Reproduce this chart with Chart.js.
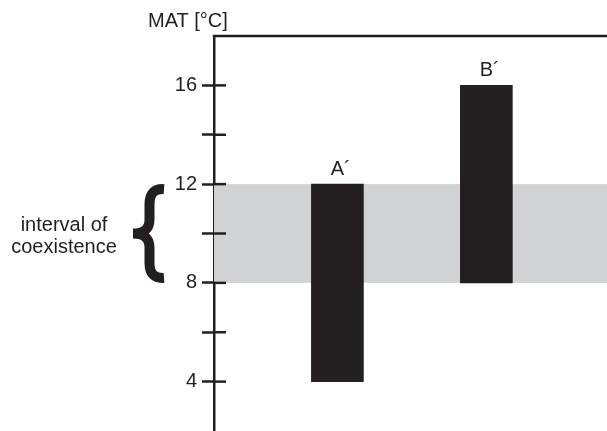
<!DOCTYPE html>
<html>
<head>
<meta charset="utf-8">
<script src="https://cdn.jsdelivr.net/npm/chart.js@4/dist/chart.umd.min.js"></script>
<style>
  html, body { margin: 0; padding: 0; background: #fff; }
  #wrap { width: 607px; height: 431px; position: relative; }
</style>
</head>
<body>
<div id="wrap"><canvas id="c" width="607" height="431"></canvas></div>
<script>
// ---- data ----
const categories = ['A\u00B4', 'B\u00B4'];
const barPositions = [31.4, 69.3];          // position along the (hidden) x axis, 0-100
const lowValues = [4, 8];                   // MAT lower bound [°C]
const highValues = [12, 16];                // MAT upper bound [°C]
const coexistence = [8, 12];                // interval of coexistence [°C]
const yTickValues = [4, 6, 8, 10, 12, 14, 16];
const yTickLabels = ['4', '', '8', '', '12', '', '16'];
const yMin = 2, yMax = 18;
const yTitle = 'MAT [°C]';
const bandLabel = ['interval of', 'coexistence'];

const INK = '#231f20';
const FONT = '"Liberation Sans", Arial, sans-serif';

const barData = categories.map((c, i) => ({ x: barPositions[i], y: [lowValues[i], highValues[i]] }));

const decorPlugin = {
  id: 'decor',
  beforeDatasetsDraw(chart) {
    const { ctx, chartArea } = chart;
    const y = chart.scales.y;
    const yTop = y.getPixelForValue(coexistence[1]);
    const yBot = y.getPixelForValue(coexistence[0]);
    ctx.save();
    ctx.fillStyle = '#d1d2d4';
    ctx.fillRect(chartArea.left, yTop, chartArea.right - chartArea.left, yBot - yTop);
    ctx.restore();
  },
  afterDatasetsDraw(chart) {
    const { ctx, chartArea } = chart;
    const y = chart.scales.y;
    ctx.save();
    // top frame line
    ctx.strokeStyle = INK;
    ctx.lineWidth = 2.5;
    ctx.beginPath();
    ctx.moveTo(chartArea.left - 1.25, chartArea.top);
    ctx.lineTo(chartArea.right, chartArea.top);
    ctx.stroke();
    // inward tick halves
    yTickValues.forEach(v => {
      const py = y.getPixelForValue(v);
      ctx.beginPath();
      ctx.moveTo(chartArea.left, py);
      ctx.lineTo(chartArea.left + 12, py);
      ctx.stroke();
    });
    // bar labels
    ctx.fillStyle = INK;
    ctx.font = '20px ' + FONT;
    ctx.textBaseline = 'alphabetic';
    ctx.textAlign = 'left';
    const meta = chart.getDatasetMeta(0);
    meta.data.forEach((bar, i) => {
      const label = categories[i];
      const wFirst = ctx.measureText(label.charAt(0)).width;
      const top = Math.min(bar.y, bar.base);
      ctx.fillText(label, bar.x - wFirst / 2, top - 9);
    });
    // y title
    ctx.fillText(yTitle, 148, 27);
    // brace
    const bt = y.getPixelForValue(coexistence[1]);
    const bb = y.getPixelForValue(coexistence[0]);
    const bm = (bt + bb) / 2;
    const sx = 149.5, tipX = 164, midX = 133;
    ctx.lineWidth = 10;
    ctx.lineJoin = 'miter';
    ctx.lineCap = 'butt';
    ctx.beginPath();
    ctx.moveTo(tipX, bt + 5);
    ctx.quadraticCurveTo(sx, bt + 4, sx, bt + 20);
    ctx.lineTo(sx, bm - 14);
    ctx.quadraticCurveTo(sx, bm, midX, bm);
    ctx.quadraticCurveTo(sx, bm, sx, bm + 14);
    ctx.lineTo(sx, bb - 20);
    ctx.quadraticCurveTo(sx, bb - 4, tipX, bb - 5);
    ctx.stroke();
    // band label
    ctx.textAlign = 'center';
    ctx.fillText(bandLabel[0], 64, bm - 3);
    ctx.fillText(bandLabel[1], 64, bm + 19);
    ctx.restore();
  }
};

new Chart(document.getElementById('c'), {
  type: 'bar',
  data: {
    datasets: [{
      data: barData,
      backgroundColor: INK,
      borderWidth: 0,
      barThickness: 52
    }]
  },
  options: {
    responsive: false,
    animation: false,
    devicePixelRatio: 1,
    layout: { padding: { top: 36, right: 0, bottom: 0, left: 0 } },
    plugins: { legend: { display: false }, tooltip: { enabled: false } },
    scales: {
      x: { type: 'linear', min: 0, max: 100, offset: false, display: false, grid: { offset: false } },
      y: {
        min: yMin, max: yMax,
        afterFit(scale) { scale.width = 214; scale.paddingTop = 0; scale.paddingBottom = 0; },
        afterBuildTicks(scale) {
          scale.ticks = [yMin].concat(yTickValues, [yMax]).map(v => ({ value: v }));
        },
        border: { display: true, color: INK, width: 2.5 },
        grid: { drawOnChartArea: false, color: INK, tickLength: 12, tickWidth: 2.5 },
        ticks: {
          padding: 5,
          color: INK,
          font: { family: FONT, size: 20 },
          callback(value) {
            const i = yTickValues.indexOf(value);
            return i < 0 ? null : yTickLabels[i];
          }
        }
      }
    }
  },
  plugins: [decorPlugin]
});
</script>
</body>
</html>
